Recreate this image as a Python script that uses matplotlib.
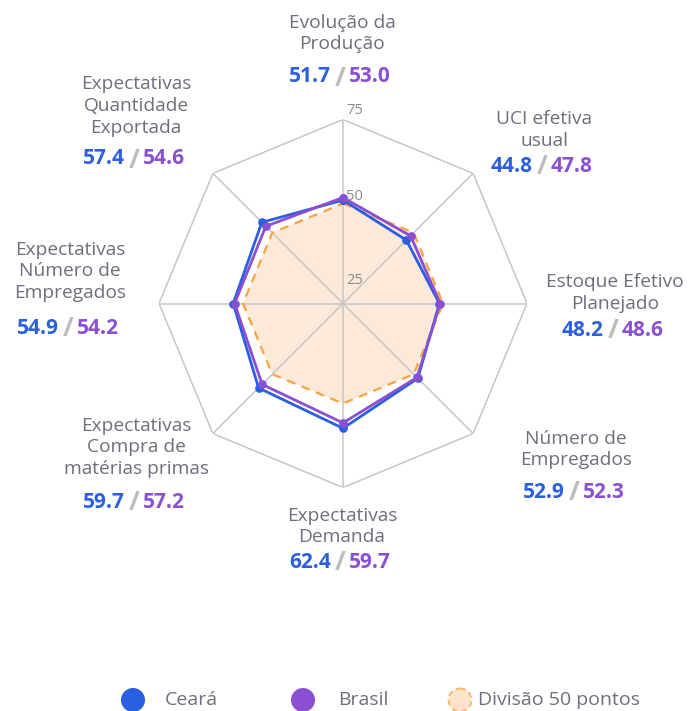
import numpy as np
import matplotlib
matplotlib.use("Agg")
import matplotlib.pyplot as plt
import matplotlib.patches as mpatches
from matplotlib.transforms import offset_copy

plt.rcParams['font.family'] = ['Open Sans', 'DejaVu Sans']

# indicators, clockwise from the top
categories = ["Evolução da\nProdução", "UCI efetiva\nusual", "Estoque Efetivo\nPlanejado",
              "Número de\nEmpregados", "Expectativas\nDemanda",
              "Expectativas\nCompra de\nmatérias primas", "Expectativas\nNúmero de\nEmpregados",
              "Expectativas\nQuantidade\nExportada"]
ceara = [51.7, 44.8, 48.2, 52.9, 62.4, 59.7, 54.9, 57.4]
brasil = [53.0, 47.8, 48.6, 52.3, 59.7, 57.2, 54.2, 54.6]
divisao = [50, 50, 50, 50, 50, 50, 50, 50]
tick_labels = ["25", "50", "75"]
r_max = 92

BLUE = '#2a5fe0'
PURPLE = '#8a4fd3'
ORANGE = '#f8a33c'
PEACH = '#fde9d9'
GREY_TXT = '#6e6e7e'
GRID = '#c6c6c6'

W, H = 692, 711
fig = plt.figure(figsize=(W / 100, H / 100), dpi=100)

# radar, centre at (343, 303.5) px, outer ring 184 px
cx, cy, R = 343, 303.5, 184
ax = fig.add_axes([(cx - R) / W, (H - cy - R) / H, 2 * R / W, 2 * R / H], projection='polar')
ax.set_theta_zero_location('N')
ax.set_theta_direction(-1)
ax.set_ylim(0, r_max)
ax.grid(False)
ax.spines['polar'].set_visible(False)
ax.patch.set_visible(False)
ax.set_xticks([])
ax.set_yticks([])

n = len(categories)
theta = np.arange(n) * 2 * np.pi / n
closed = np.append(theta, theta[0])

def close(vals):
    return np.append(vals, vals[0])

# octagon frame + spokes
ax.plot(closed, [r_max] * (n + 1), color=GRID, lw=1.1, zorder=1)
for t in theta:
    ax.plot([t, t], [0, r_max], color=GRID, lw=1.1, zorder=1)

ax.fill(closed, close(divisao), color=PEACH, zorder=0.5, lw=0)
ax.plot(closed, close(divisao), color=ORANGE, lw=1.6, ls=(0, (4, 3)), zorder=2)
ax.plot(closed, close(ceara), color=BLUE, lw=2.0, marker='o', ms=5.2, zorder=3)
ax.plot(closed, close(brasil), color=PURPLE, lw=2.0, marker='o', ms=5.2, zorder=4)

# scale labels (sit just right of the top spoke)
tick_tr = offset_copy(ax.transData, fig=fig, x=3, y=0, units='dots')
for s, r in zip(tick_labels, [11.75, 53.75, 96.25]):
    ax.text(0, r, s, transform=tick_tr, ha='left', va='center', fontsize=10.5,
            color='#8a8a8a', clip_on=False, zorder=5)

# overlay in pixel coordinates for the outer labels and legend
ov = fig.add_axes([0, 0, 1, 1])
ov.set_xlim(0, W)
ov.set_ylim(H, 0)
ov.axis('off')
ov.patch.set_visible(False)

# (x centre, title block centre y, value line y)
label_pos = [(342, 33.5, 77), (544, 130, 166), (615, 293, 330), (576, 449.5, 492),
             (342, 526.5, 562), (136, 447.5, 502), (70, 271.5, 328), (136, 106, 159)]

for name, c, b, (x, ty, vy) in zip(categories, ceara, brasil, label_pos):
    ov.text(x, ty, name, ha='center', va='center', fontsize=13.8, color=GREY_TXT,
            linespacing=1.28, multialignment='center')
    ov.text(x - 2, vy + 1, "/", ha='center', va='center', fontsize=19, fontweight='bold',
            color='#bdbdbd')
    ov.text(x - 11, vy, f"{c:.1f}", ha='right', va='center', fontsize=15,
            fontweight='bold', color=BLUE)
    ov.text(x + 7, vy, f"{b:.1f}", ha='left', va='center', fontsize=15,
            fontweight='bold', color=PURPLE)

# legend
ly = 700
ov.add_patch(mpatches.Circle((133, ly), 12, facecolor=BLUE, edgecolor='none'))
ov.text(165, ly, "Ceará", ha='left', va='center', fontsize=14, color=GREY_TXT)
ov.add_patch(mpatches.Circle((303, ly), 12, facecolor=PURPLE, edgecolor='none'))
ov.text(338, ly, "Brasil", ha='left', va='center', fontsize=14, color=GREY_TXT)
ov.add_patch(mpatches.Circle((460, ly), 11.5, facecolor='#fde3cc', edgecolor='#f9b86a',
                             lw=1.4, ls=(0, (3, 2))))
ov.text(478, ly, "Divisão 50 pontos", ha='left', va='center', fontsize=14, color=GREY_TXT)

fig.savefig("out.png", dpi=100)
